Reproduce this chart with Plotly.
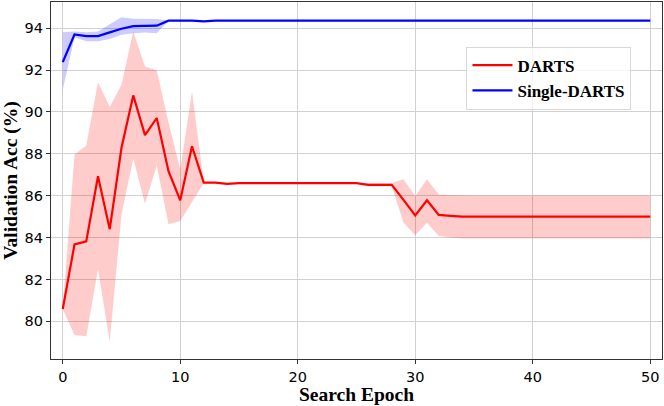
import plotly.graph_objects as go

# Search epochs 0..50
epochs = list(range(51))

# DARTS mean / upper / lower
darts_mean = [80.59, 83.67, 83.82, 86.93, 84.40, 88.29, 90.79, 88.89, 89.71, 87.17,
              85.78, 88.36, 86.62, 86.62, 86.56, 86.60, 86.60, 86.60, 86.60, 86.60,
              86.60, 86.60, 86.60, 86.60, 86.60, 86.60, 86.52, 86.52, 86.52, 85.80,
              85.06, 85.78, 85.08, 85.04, 85.00] + [85.00] * 16
darts_upper = [80.59, 87.97, 88.40, 91.43, 90.24, 91.30, 93.84, 92.17, 91.98, 89.49,
               87.25, 90.98, 86.65, 86.65, 86.60, 86.62, 86.62, 86.62, 86.62, 86.62,
               86.62, 86.62, 86.62, 86.62, 86.62, 86.62, 86.60, 86.60, 86.60, 86.79,
               85.98, 86.79, 86.06, 86.03, 86.01] + [86.01] * 16
darts_lower = [80.59, 79.35, 79.29, 82.49, 79.03, 85.10, 87.76, 85.62, 87.44, 84.63,
               84.79, 85.70, 86.59, 86.59, 86.52, 86.58, 86.58, 86.58, 86.58, 86.58,
               86.58, 86.58, 86.58, 86.58, 86.58, 86.58, 86.45, 86.45, 86.45, 84.71,
               84.11, 84.71, 84.08, 84.00, 83.95] + [83.95] * 16

# Single-DARTS mean / upper / lower
single_mean = [92.38, 93.70, 93.62, 93.62, 93.80, 93.97, 94.10, 94.10, 94.12, 94.36,
               94.36, 94.36, 94.32, 94.36] + [94.36] * 37
single_upper = [93.80, 93.84, 93.80, 93.84, 94.19, 94.52, 94.45, 94.45, 94.44, 94.37,
                94.37, 94.37, 94.33, 94.37] + [94.37] * 37
single_lower = [91.06, 93.57, 93.38, 93.38, 93.48, 93.68, 93.76, 93.79, 93.76, 94.35,
                94.35, 94.35, 94.31, 94.35] + [94.35] * 37

x_ticks = [0, 10, 20, 30, 40, 50]
y_ticks = [80, 82, 84, 86, 88, 90, 92, 94]

fig = go.Figure()

def add_band(upper, lower, fill):
    fig.add_trace(go.Scatter(x=epochs, y=upper, mode='lines', line=dict(width=0),
                             showlegend=False, hoverinfo='skip'))
    fig.add_trace(go.Scatter(x=epochs, y=lower, mode='lines', line=dict(width=0),
                             fill='tonexty', fillcolor=fill,
                             showlegend=False, hoverinfo='skip'))

add_band(darts_upper, darts_lower, 'rgba(255,0,0,0.2)')
fig.add_trace(go.Scatter(x=epochs, y=darts_mean, mode='lines', name='<b>DARTS</b>',
                         line=dict(color='#ff0000', width=2.2)))
add_band(single_upper, single_lower, 'rgba(0,0,255,0.2)')
fig.add_trace(go.Scatter(x=epochs, y=single_mean, mode='lines', name='<b>Single-DARTS</b>',
                         line=dict(color='#0000ff', width=2.2)))

axis_common = dict(
    showline=True, linecolor='#333', linewidth=1.2, mirror=True,
    showgrid=True, gridcolor='#d0d0d0', gridwidth=1,
    ticks='outside', ticklen=4, tickcolor='#333',
    tickfont=dict(family='DejaVu Sans', size=14.5, color='black'),
    zeroline=False,
)

fig.update_xaxes(
    range=[-1, 51], tickvals=x_ticks,
    title=dict(text='<b>Search Epoch</b>', standoff=2,
               font=dict(family='Liberation Serif', size=19.5, color='black')),
    **axis_common,
)
fig.update_yaxes(
    range=[78.2, 95.25], tickvals=y_ticks,
    title=dict(text='<b>Validation Acc (%)</b>', standoff=6,
               font=dict(family='Liberation Serif', size=19.5, color='black')),
    **axis_common,
)

fig.update_layout(
    width=664, height=406,
    margin=dict(l=51, r=2, t=2, b=47),
    plot_bgcolor='white', paper_bgcolor='white',
    legend=dict(x=0.68, y=0.875, xanchor='left', yanchor='top',
                traceorder='normal',
                bgcolor='rgba(255,255,255,0.8)', bordercolor='#d8d8d8', borderwidth=1,
                font=dict(family='Liberation Serif', size=17, color='black'),
                itemwidth=40),
)

fig.write_html('out.html', config={'displayModeBar': False},
               post_script="document.body.style.margin='0px';")
